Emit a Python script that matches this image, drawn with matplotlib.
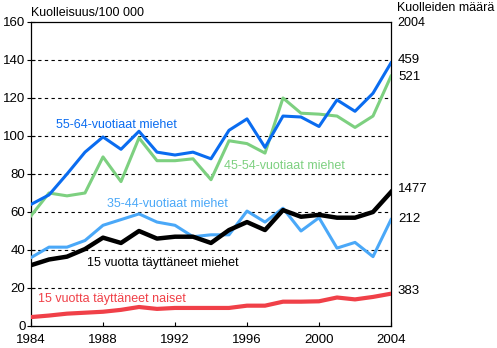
import matplotlib
matplotlib.use("Agg")
import matplotlib.pyplot as plt

plt.rcParams['font.family'] = ['Liberation Sans', 'DejaVu Sans']

years = list(range(1984, 2005))
m55_64 = [64, 69, 80, 91.5, 99.5, 93, 102.5, 91.5, 90, 91.5, 88, 103, 109, 94, 110.5, 110, 105, 119, 113, 122.5, 138.5]
m45_54 = [58, 70, 68.5, 70, 89, 76, 99, 87, 87, 88, 77, 97.5, 96, 91, 120, 112, 111.5, 110.5, 104.5, 110.5, 131.5]
m35_44 = [36, 41.5, 41.5, 45, 53, 56, 59, 54.7, 53, 47, 48, 48, 60.5, 54.7, 62, 50, 57, 41, 44, 36.5, 56]
m15 = [32, 35, 36.5, 40.5, 46.5, 43.7, 50, 46, 47, 47, 43.7, 50.5, 54.7, 50.5, 61, 57.5, 58.5, 57, 57, 60, 70.5]
w15 = [4.7, 5.5, 6.5, 7, 7.5, 8.5, 10, 9, 9.5, 9.5, 9.5, 9.5, 10.7, 10.7, 12.8, 12.8, 13, 15, 14, 15.3, 17]

series_labels = ["55-64-vuotiaat miehet", "45-54-vuotiaat miehet", "35-44-vuotiaat miehet",
                 "15 vuotta täyttäneet miehet", "15 vuotta täyttäneet naiset"]
counts_2004 = ["459", "521", "212", "1477", "383"]
count_label_y = [140, 131, 56.3, 72, 18.4]
xticks = [1984, 1988, 1992, 1996, 2000, 2004]
yticks = [0, 20, 40, 60, 80, 100, 120, 140, 160]

c_blue = "#0a6cf0"
c_green = "#7dd080"
c_lblue = "#4aa8f8"
c_black = "#000000"
c_red = "#f04048"

fig = plt.figure(figsize=(4.97, 3.48), dpi=100)
ax = fig.add_axes([31/497, 1-326/348, (391-31)/497, (326-22)/348])

fs = 9
fst = 9.5
ax.plot(years, w15, color=c_red, lw=3.0, solid_joinstyle='round', zorder=3)
ax.plot(years, m15, color=c_black, lw=3.2, solid_joinstyle='round', zorder=4)
ax.plot(years, m35_44, color=c_lblue, lw=2.2, solid_joinstyle='round', zorder=3)
ax.plot(years, m45_54, color=c_green, lw=2.2, solid_joinstyle='round', zorder=3)
ax.plot(years, m55_64, color=c_blue, lw=2.2, solid_joinstyle='round', zorder=3)

ax.set_xlim(1984, 2004)
ax.set_ylim(0, 160)
ax.set_xticks(xticks)
ax.set_yticks(yticks)
ax.tick_params(axis='y', labelsize=fst, length=6, direction='inout', width=0.8, pad=1)
ax.tick_params(axis='x', labelsize=fst, length=3, direction='in', width=0.8, pad=6)
for y in yticks[1:-1]:
    ax.axhline(y, color='black', lw=0.8, ls=(0, (3, 3)), zorder=1)
for s in ax.spines.values():
    s.set_linewidth(0.9)

# series labels
ax.text(1985.4, 106, series_labels[0], color=c_blue, fontsize=fs, va='center', ha='left')
ax.text(1994.7, 84, series_labels[1], color=c_green, fontsize=fs, va='center', ha='left')
ax.text(1988.2, 64, series_labels[2], color=c_lblue, fontsize=fs, va='center', ha='left')
ax.text(1987.1, 33, series_labels[3], color=c_black, fontsize=fs, va='center', ha='left')
ax.text(1984.4, 14.2, series_labels[4], color=c_red, fontsize=fs, va='center', ha='left')

# right-side counts
for yv, lab in zip(count_label_y, counts_2004):
    ax.annotate(lab, xy=(2004, yv), xytext=(5, 0), textcoords='offset points',
                fontsize=fst, va='center', ha='left', annotation_clip=False)

fig.text(31/497, 1-13/348, "Kuolleisuus/100 000", fontsize=fs, va='center', ha='left')
fig.text(397/497, 1-8/348, "Kuolleiden määrä", fontsize=fs, va='center', ha='left')
fig.text(397/497, 1-23/348, "2004", fontsize=fs, va='center', ha='left')

fig.savefig("out.png", dpi=100)
